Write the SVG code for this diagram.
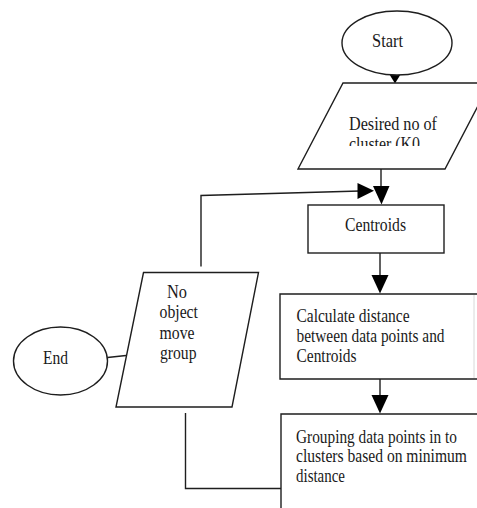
<svg xmlns="http://www.w3.org/2000/svg" width="477" height="508" viewBox="0 0 477 508">
  <style>
    .shape { fill: #ffffff; stroke: #1e1e1e; stroke-width: 1.4; }
    .line { fill: none; stroke: #1e1e1e; stroke-width: 1.4; }
    .faint { fill: none; stroke: #d8d8d8; stroke-width: 1; }
    .head { fill: #000000; stroke: none; }
    text { font-family: "Liberation Serif", "Times New Roman", serif; font-size: 19px; fill: #1a1a1a; }
  </style>
  <defs>
    <clipPath id="clipDesired">
      <rect x="290" y="83" width="200" height="63"/>
    </clipPath>
  </defs>
  <rect x="0" y="0" width="477" height="508" fill="#ffffff"/>

  <g id="connectors">
    <polygon class="head" points="389.5,74.5 400.5,74.5 395,83.5"/>
    <line class="line" x1="381" y1="169" x2="381" y2="187"/>
    <polygon class="head" points="373,186 389.5,186 381.5,204.5"/>
    <polyline class="line" points="201,266.5 201,195.5 360,191"/>
    <polygon class="head" points="357.5,183 357.5,199 374,190.8"/>
    <line class="line" x1="380" y1="253" x2="380" y2="276"/>
    <polygon class="head" points="371.5,275 388.5,275 380,293.5"/>
    <line class="line" x1="380" y1="379" x2="380" y2="396"/>
    <polygon class="head" points="371.5,395 388.5,395 380,413.5"/>
    <polyline class="line" points="281,488.5 185.5,488.5 185.5,413"/>
    <line class="line" x1="107.5" y1="357.5" x2="126" y2="355.5"/>
  </g>

  <g id="start">
    <ellipse class="shape" cx="397" cy="43" rx="55" ry="32"/>
    <text x="372" y="47" textLength="31" lengthAdjust="spacingAndGlyphs">Start</text>
  </g>

  <g id="desired">
    <polygon class="shape" points="343,83 490,83 445,169 298,169"/>
    <g clip-path="url(#clipDesired)">
      <text x="349" y="130" textLength="88" lengthAdjust="spacingAndGlyphs">Desired no of</text>
      <text x="349" y="150" textLength="71" lengthAdjust="spacingAndGlyphs">cluster (K0</text>
    </g>
  </g>

  <g id="centroids">
    <rect class="shape" x="308" y="205" width="136" height="48"/>
    <text x="345" y="231" textLength="61" lengthAdjust="spacingAndGlyphs">Centroids</text>
  </g>

  <g id="calculate">
    <rect x="280" y="294" width="194" height="85" fill="#ffffff"/>
    <path class="line" d="M477,294 H280 V379 H477"/>
    <line class="faint" x1="474" y1="295" x2="474" y2="378"/>
    <text x="296.5" y="321.5" textLength="113" lengthAdjust="spacingAndGlyphs">Calculate distance</text>
    <text x="296.5" y="341.5" textLength="148" lengthAdjust="spacingAndGlyphs">between data points and</text>
    <text x="296.5" y="361.5" textLength="60" lengthAdjust="spacingAndGlyphs">Centroids</text>
  </g>

  <g id="grouping">
    <rect x="281" y="414" width="196" height="94" fill="#ffffff"/>
    <path class="line" d="M477,414 H281 V508"/>
    <text x="296" y="442.5" textLength="161" lengthAdjust="spacingAndGlyphs">Grouping data points in to</text>
    <text x="296" y="462" textLength="171" lengthAdjust="spacingAndGlyphs">clusters based on minimum</text>
    <text x="296" y="482" textLength="49" lengthAdjust="spacingAndGlyphs">distance</text>
  </g>

  <g id="no-object-move">
    <polygon class="shape" points="143.5,272.5 258.5,272.5 232,407 116,407"/>
    <text x="167" y="297.5" textLength="20" lengthAdjust="spacingAndGlyphs">No</text>
    <text x="159.5" y="318" textLength="38.5" lengthAdjust="spacingAndGlyphs">object</text>
    <text x="159.5" y="338.5" textLength="35" lengthAdjust="spacingAndGlyphs">move</text>
    <text x="160" y="359" textLength="36.5" lengthAdjust="spacingAndGlyphs">group</text>
  </g>

  <g id="end">
    <ellipse class="shape" cx="60.5" cy="361" rx="47" ry="34"/>
    <text x="43" y="363.5" textLength="25" lengthAdjust="spacingAndGlyphs">End</text>
  </g>
</svg>
